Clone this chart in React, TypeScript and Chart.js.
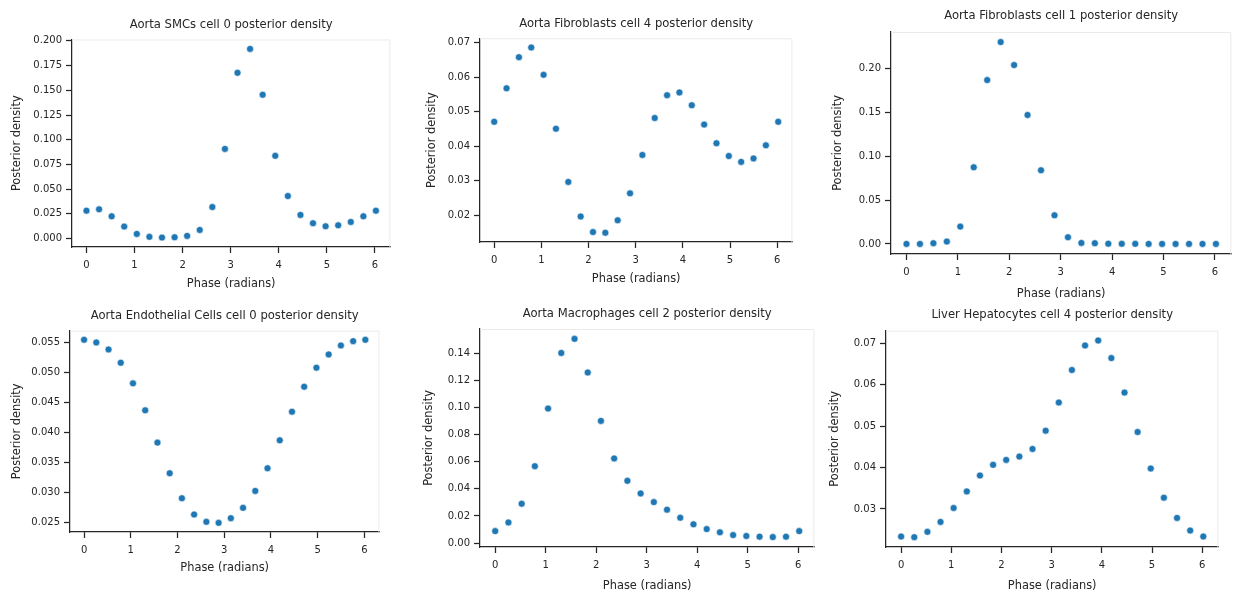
import { useEffect, useRef } from "react";
import { Chart, registerables } from "chart.js";

Chart.register(...registerables);

// Phase grid (radians) shared by every panel
const phases = [
  0, 0.262, 0.524, 0.785, 1.047, 1.309, 1.571, 1.833, 2.094, 2.356, 2.618, 2.88,
  3.142, 3.403, 3.665, 3.927, 4.189, 4.451, 4.712, 4.974, 5.236, 5.498, 5.76, 6.021,
];

// Posterior density per phase bin
const smcCell0 = [
  0.0282, 0.0296, 0.0225, 0.0121, 0.0047, 0.0017, 0.001, 0.0013, 0.0027, 0.0087, 0.0319, 0.0907,
  0.1677, 0.1919, 0.1455, 0.0837, 0.043, 0.0239, 0.0155, 0.0124, 0.0134, 0.0168, 0.0225, 0.0282,
];
const fibroCell4 = [
  0.0471, 0.0568, 0.0658, 0.0686, 0.0607, 0.0451, 0.0297, 0.0197, 0.0152, 0.015, 0.0186, 0.0264,
  0.0375, 0.0482, 0.0548, 0.0556, 0.0519, 0.0463, 0.0409, 0.0372, 0.0355, 0.0365, 0.0403, 0.0471,
];
const fibroCell1 = [
  0.0, 0.0, 0.0008, 0.0027, 0.0197, 0.0873, 0.1867, 0.23, 0.2038, 0.1469, 0.0839, 0.0326,
  0.0076, 0.0011, 0.0008, 0.0002, 0.0001, 0.0001, 0.0, 0.0, 0.0, 0.0, 0.0, 0.0,
];
const endoCell0 = [
  0.05544, 0.055, 0.05383, 0.05161, 0.04817, 0.04367, 0.03828, 0.03317, 0.029, 0.02628, 0.02506, 0.02489,
  0.02567, 0.02739, 0.03022, 0.034, 0.03867, 0.04344, 0.04761, 0.05078, 0.053, 0.0545, 0.05522, 0.05544,
];
const macroCell2 = [
  0.0088, 0.0152, 0.029, 0.0567, 0.0992, 0.1402, 0.1506, 0.1258, 0.0901, 0.0624, 0.0459, 0.0366,
  0.0302, 0.0246, 0.0187, 0.0138, 0.0103, 0.0079, 0.0059, 0.0052, 0.0047, 0.0044, 0.0047, 0.0088,
];
const hepCell4 = [
  0.02336, 0.0232, 0.02448, 0.02688, 0.03024, 0.03424, 0.03808, 0.04064, 0.04184, 0.04264, 0.04448, 0.04888,
  0.05568, 0.06352, 0.06944, 0.07064, 0.0664, 0.05808, 0.04856, 0.03976, 0.03272, 0.02784, 0.0248, 0.02336,
];

// Tick values
const xTicks = [0, 1, 2, 3, 4, 5, 6];
const smcTicks = [0, 0.025, 0.05, 0.075, 0.1, 0.125, 0.15, 0.175, 0.2];
const fibro4Ticks = [0.02, 0.03, 0.04, 0.05, 0.06, 0.07];
const fibro1Ticks = [0, 0.05, 0.1, 0.15, 0.2];
const endoTicks = [0.025, 0.03, 0.035, 0.04, 0.045, 0.05, 0.055];
const macroTicks = [0, 0.02, 0.04, 0.06, 0.08, 0.1, 0.12, 0.14];
const hepTicks = [0.03, 0.04, 0.05, 0.06, 0.07];

const FONT = "'DejaVu Sans', 'Liberation Sans', sans-serif";
const INK = "#262626";
const DOT = "#1f77b4";

type Box = { l: number; t: number; r: number; b: number };
type Panel = {
  title: string;
  values: number[];
  yTicks: number[];
  decimals: number;
  box: Box; // plot area in page pixels
  yLabelGap: number; // distance from y spine to y-label centre
  xLabelGap: number; // distance from x spine to x-label centre
  titleGap: number; // distance from title centre to top of plot area
};

const panels: Panel[] = [
  { title: "Aorta SMCs cell 0 posterior density", values: smcCell0, yTicks: smcTicks, decimals: 3,
    box: { l: 72, t: 39, r: 391, b: 247 }, yLabelGap: 55, xLabelGap: 37.5, titleGap: 14.5 },
  { title: "Aorta Fibroblasts cell 4 posterior density", values: fibroCell4, yTicks: fibro4Ticks, decimals: 2,
    box: { l: 480, t: 38, r: 793, b: 242 }, yLabelGap: 48, xLabelGap: 36.7, titleGap: 14.3 },
  { title: "Aorta Fibroblasts cell 1 posterior density", values: fibroCell1, yTicks: fibro1Ticks, decimals: 2,
    box: { l: 891, t: 32, r: 1232, b: 254 }, yLabelGap: 52.7, xLabelGap: 40, titleGap: 16 },
  { title: "Aorta Endothelial Cells cell 0 posterior density", values: endoCell0, yTicks: endoTicks, decimals: 3,
    box: { l: 70, t: 331, r: 380, b: 532 }, yLabelGap: 53.3, xLabelGap: 36, titleGap: 14.7 },
  { title: "Aorta Macrophages cell 2 posterior density", values: macroCell2, yTicks: macroTicks, decimals: 2,
    box: { l: 480, t: 329, r: 815, b: 547 }, yLabelGap: 51, xLabelGap: 39.5, titleGap: 15 },
  { title: "Liver Hepatocytes cell 4 posterior density", values: hepCell4, yTicks: hepTicks, decimals: 2,
    box: { l: 886, t: 331, r: 1219, b: 547 }, yLabelGap: 51, xLabelGap: 39.5, titleGap: 15.7 },
];

const TITLE_SIZE = 11.6;
const LABEL_SIZE = 11.4;
const TICK_SIZE = 10;
const LH = 1.2;
const TICK_LEN = 6;
const RIGHT_PAD = 4;
const TITLE_TOP_PAD = 2;

// 5% margins around the data, as in the usual autoscaled axes
function padded(vals: number[]) {
  const lo = Math.min(...vals);
  const hi = Math.max(...vals);
  const m = (hi - lo) * 0.05;
  return { min: lo - m, max: hi + m };
}

// Light frame on the top and right of the plot area
const lightFrame = {
  id: "lightFrame",
  beforeDatasetsDraw(chart: any) {
    const { ctx, chartArea: a } = chart;
    ctx.save();
    ctx.strokeStyle = "#ebebeb";
    ctx.lineWidth = 1;
    ctx.beginPath();
    ctx.moveTo(a.left, a.top + 0.5);
    ctx.lineTo(a.right - 0.5, a.top + 0.5);
    ctx.lineTo(a.right - 0.5, a.bottom);
    ctx.stroke();
    ctx.restore();
  },
};

function PanelChart({ p }: { p: Panel }) {
  const ref = useRef<HTMLCanvasElement | null>(null);

  const yW = Math.round(p.yLabelGap + (LABEL_SIZE * LH) / 2);
  const xH = Math.round(p.xLabelGap + (LABEL_SIZE * LH) / 2);
  const titleLH = TITLE_SIZE * LH;
  const titleBottomPad = p.titleGap - titleLH / 2;
  const titleH = TITLE_TOP_PAD + titleLH + titleBottomPad;

  const left = p.box.l - yW;
  const top = Math.round(p.box.t - titleH);
  const width = p.box.r - p.box.l + yW + RIGHT_PAD;
  const height = p.box.b - top + xH;

  useEffect(() => {
    if (!ref.current) return;
    const xr = padded(phases);
    const yr = padded(p.values);
    const axisGrid = {
      drawOnChartArea: false,
      drawTicks: true,
      tickLength: TICK_LEN,
      tickWidth: 1.25,
      tickColor: INK,
    };
    const chart = new Chart(ref.current, {
      type: "scatter",
      data: {
        datasets: [
          {
            data: phases.map((x, i) => ({ x, y: p.values[i] })),
            backgroundColor: DOT,
            borderColor: "#ffffff",
            borderWidth: 0.6,
            pointRadius: 3.5,
          },
        ],
      },
      plugins: [lightFrame],
      options: {
        responsive: false,
        animation: false,
        devicePixelRatio: 1,
        layout: { padding: { left: 0, right: RIGHT_PAD, top: 0, bottom: 0 } },
        plugins: {
          legend: { display: false },
          tooltip: { enabled: false },
          title: {
            display: true,
            text: p.title,
            fullSize: false,
            color: INK,
            font: { family: FONT, size: TITLE_SIZE, weight: "normal", lineHeight: LH },
            padding: { top: TITLE_TOP_PAD, bottom: titleBottomPad },
          },
        },
        scales: {
          x: {
            type: "linear",
            min: xr.min,
            max: xr.max,
            afterBuildTicks: (s: any) => {
              s.ticks = xTicks.map((v) => ({ value: v }));
            },
            afterFit: (s: any) => {
              s.height = xH;
            },
            ticks: {
              autoSkip: false,
              maxRotation: 0,
              padding: 6.5,
              color: INK,
              font: { family: FONT, size: TICK_SIZE },
              callback: (v: any) => String(v),
            },
            grid: axisGrid,
            border: { display: true, color: INK, width: 1.25 },
            title: {
              display: true,
              text: "Phase (radians)",
              color: INK,
              padding: 0,
              font: { family: FONT, size: LABEL_SIZE, lineHeight: LH },
            },
          },
          y: {
            type: "linear",
            min: yr.min,
            max: yr.max,
            afterBuildTicks: (s: any) => {
              s.ticks = p.yTicks.map((v) => ({ value: v }));
            },
            afterFit: (s: any) => {
              s.width = yW;
            },
            ticks: {
              autoSkip: false,
              padding: 4,
              color: INK,
              font: { family: FONT, size: TICK_SIZE },
              callback: (v: any) => Number(v).toFixed(p.decimals),
            },
            grid: axisGrid,
            border: { display: true, color: INK, width: 1.25 },
            title: {
              display: true,
              text: "Posterior density",
              color: INK,
              padding: 0,
              font: { family: FONT, size: LABEL_SIZE, lineHeight: LH },
            },
          },
        },
      },
    } as any);
    return () => chart.destroy();
  }, [p]);

  return (
    <canvas
      ref={ref}
      width={width}
      height={height}
      style={{ position: "absolute", left, top, width, height }}
    />
  );
}

export default function App() {
  return (
    <div style={{ position: "absolute", left: 0, top: 0, width: 1236, height: 592, background: "#ffffff", overflow: "hidden" }}>
      {panels.map((p) => (
        <PanelChart key={p.title} p={p} />
      ))}
    </div>
  );
}
